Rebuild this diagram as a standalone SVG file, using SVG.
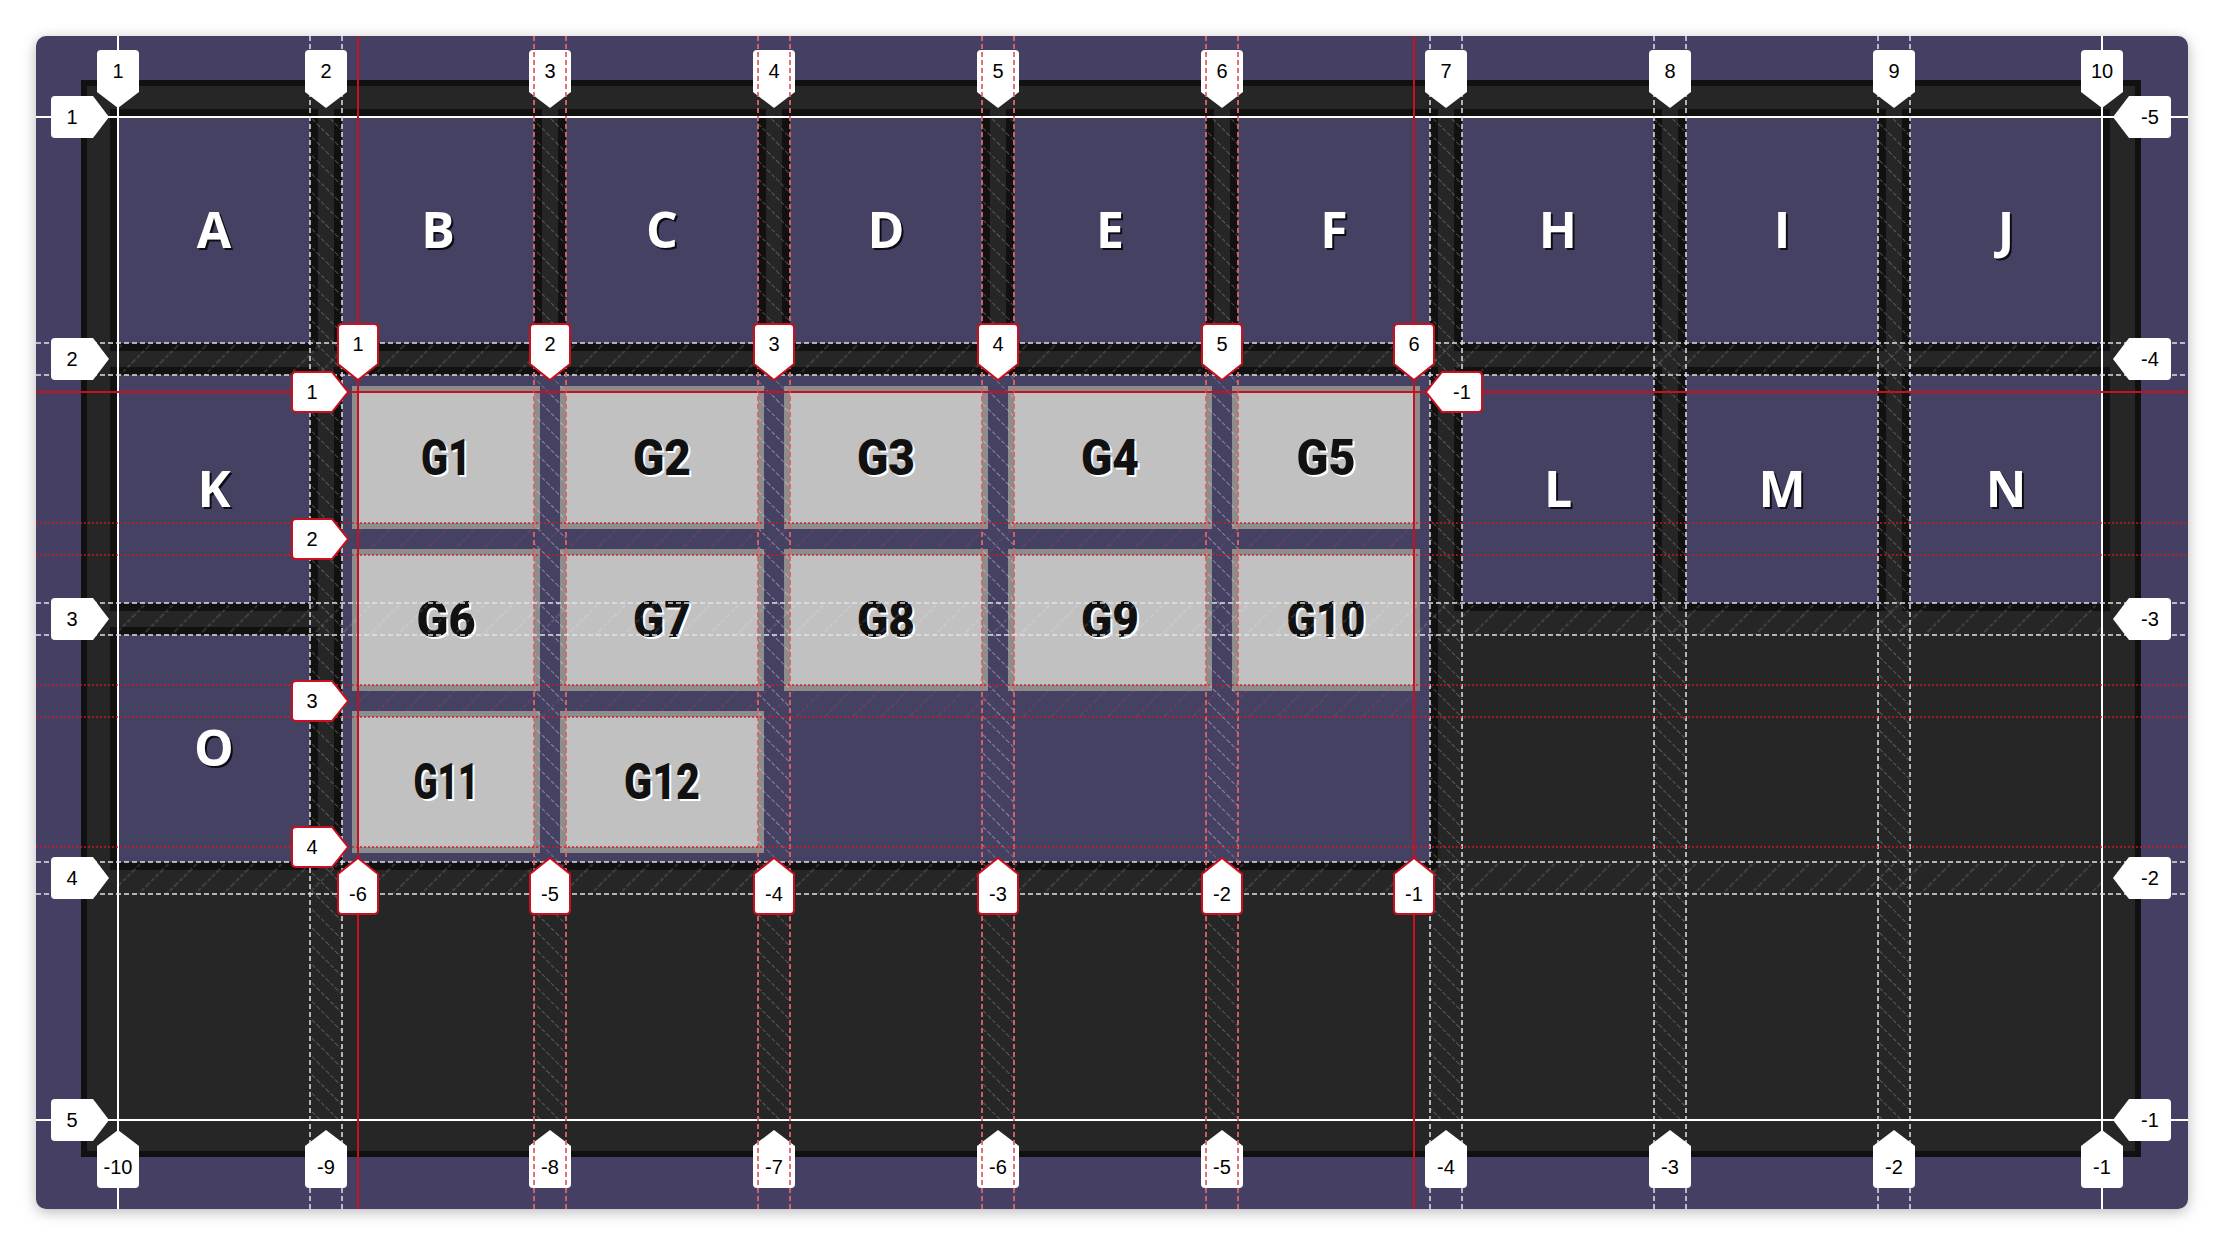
<svg xmlns="http://www.w3.org/2000/svg" width="2224" height="1246" viewBox="0 0 2224 1246">
<style>
.cell{fill:#444163;stroke:#111;stroke-width:16;paint-order:stroke}
.gi{fill:#c1c1c1;stroke:#8d8d8d;stroke-width:12;paint-order:stroke}
.lt{font-family:"Open Sans",sans-serif;font-weight:700;font-size:50px;text-anchor:middle}
.gt{font-family:Roboto,sans-serif;font-weight:900;font-size:50px;text-anchor:middle}
.wl{stroke:#fff;stroke-width:2;fill:none}
.wd{stroke:#e2e2e2;stroke-width:1.5;stroke-dasharray:5 3;fill:none}
.rl{stroke:#c8101e;stroke-width:2;fill:none}
.rd{stroke:#e0404a;stroke-width:1.5;stroke-dasharray:5 3;fill:none}
.ro{stroke:rgba(205,25,35,0.7);stroke-width:2;stroke-dasharray:2 2;fill:none}
.tag{fill:#fff}
.stag{fill:#fff;stroke:#c8101e;stroke-width:2}
.tt{font-family:"Liberation Sans",Arial,sans-serif;font-size:20px;fill:#000;text-anchor:middle}
</style>
<defs>
<filter id="sh" x="-5%" y="-5%" width="110%" height="110%"><feDropShadow dx="0" dy="3" stdDeviation="7" flood-color="#000" flood-opacity="0.28"/></filter>
<pattern id="hc" width="13" height="13" patternUnits="userSpaceOnUse" patternTransform="rotate(-45)"><line x1="6.5" y1="0" x2="6.5" y2="13" stroke="rgba(255,255,255,0.3)" stroke-width="0.8" stroke-dasharray="4 2"/></pattern>
<pattern id="hr" width="20" height="20" patternUnits="userSpaceOnUse" patternTransform="rotate(45)"><line x1="10" y1="0" x2="10" y2="20" stroke="rgba(255,255,255,0.3)" stroke-width="0.8" stroke-dasharray="4 2"/></pattern>
<pattern id="shc" width="13" height="13" patternUnits="userSpaceOnUse" patternTransform="rotate(-45)"><line x1="6.5" y1="0" x2="6.5" y2="13" stroke="rgba(255,190,190,0.3)" stroke-width="0.8" stroke-dasharray="4 2"/></pattern>
<pattern id="shr" width="20" height="20" patternUnits="userSpaceOnUse" patternTransform="rotate(45)"><line x1="10" y1="0" x2="10" y2="20" stroke="rgba(230,80,90,0.35)" stroke-width="0.8" stroke-dasharray="4 2"/></pattern>
<path id="tT" d="M-21,-16 L-21,-54 Q-21,-58 -17,-58 L17,-58 Q21,-58 21,-54 L21,-16 L0,0 Z"/>
<path id="tB" d="M-21,16 L-21,54 Q-21,58 -17,58 L17,58 Q21,58 21,54 L21,16 L0,0 Z"/>
<path id="tL" d="M-16,-21 L-54,-21 Q-58,-21 -58,-17 L-58,17 Q-58,21 -54,21 L-16,21 L0,0 Z"/>
<path id="tR" d="M16,-21 L54,-21 Q58,-21 58,-17 L58,17 Q58,21 54,21 L16,21 L0,0 Z"/>
<path id="sT" d="M-20,-16 L-20,-52 Q-20,-56 -16,-56 L16,-56 Q20,-56 20,-52 L20,-16 L0,0 Z"/>
<path id="sB" d="M-20,16 L-20,52 Q-20,56 -16,56 L16,56 Q20,56 20,52 L20,16 L0,0 Z"/>
<path id="sL" d="M-16,-20 L-52,-20 Q-56,-20 -56,-16 L-56,16 Q-56,20 -52,20 L-16,20 L0,0 Z"/>
<path id="sR" d="M16,-20 L52,-20 Q56,-20 56,-16 L56,16 Q56,20 52,20 L16,20 L0,0 Z"/>
</defs>
<rect width="2224" height="1246" fill="#fff"/>
<rect id="panel" x="36" y="36" width="2152" height="1173" rx="10" fill="#444163" filter="url(#sh)"/>
<rect id="container" x="84" y="83" width="2054" height="1071" fill="#262626" stroke="#111" stroke-width="6"/>
<g id="items">
<g id="A"><rect class="cell" x="118" y="117" width="192" height="226"/><text class="lt" x="216" y="250" fill="#000" opacity="0.8">A</text><text class="lt" x="214" y="248" fill="#fff">A</text></g>
<g id="B"><rect class="cell" x="342" y="117" width="192" height="226"/><text class="lt" x="440" y="250" fill="#000" opacity="0.8">B</text><text class="lt" x="438" y="248" fill="#fff">B</text></g>
<g id="C"><rect class="cell" x="566" y="117" width="192" height="226"/><text class="lt" x="664" y="250" fill="#000" opacity="0.8">C</text><text class="lt" x="662" y="248" fill="#fff">C</text></g>
<g id="D"><rect class="cell" x="790" y="117" width="192" height="226"/><text class="lt" x="888" y="250" fill="#000" opacity="0.8">D</text><text class="lt" x="886" y="248" fill="#fff">D</text></g>
<g id="E"><rect class="cell" x="1014" y="117" width="192" height="226"/><text class="lt" x="1112" y="250" fill="#000" opacity="0.8">E</text><text class="lt" x="1110" y="248" fill="#fff">E</text></g>
<g id="F"><rect class="cell" x="1238" y="117" width="192" height="226"/><text class="lt" x="1336" y="250" fill="#000" opacity="0.8">F</text><text class="lt" x="1334" y="248" fill="#fff">F</text></g>
<g id="H"><rect class="cell" x="1462" y="117" width="192" height="226"/><text class="lt" x="1560" y="250" fill="#000" opacity="0.8">H</text><text class="lt" x="1558" y="248" fill="#fff">H</text></g>
<g id="I"><rect class="cell" x="1686" y="117" width="192" height="226"/><text class="lt" x="1784" y="250" fill="#000" opacity="0.8">I</text><text class="lt" x="1782" y="248" fill="#fff">I</text></g>
<g id="J"><rect class="cell" x="1910" y="117" width="192" height="226"/><text class="lt" x="2008" y="250" fill="#000" opacity="0.8">J</text><text class="lt" x="2006" y="248" fill="#fff">J</text></g>
<g id="K"><rect class="cell" x="118" y="375" width="192" height="228"/><text class="lt" x="216" y="509" fill="#000" opacity="0.8">K</text><text class="lt" x="214" y="507" fill="#fff">K</text></g>
<g id="L"><rect class="cell" x="1462" y="375" width="192" height="228"/><text class="lt" x="1560" y="509" fill="#000" opacity="0.8">L</text><text class="lt" x="1558" y="507" fill="#fff">L</text></g>
<g id="M"><rect class="cell" x="1686" y="375" width="192" height="228"/><text class="lt" x="1784" y="509" fill="#000" opacity="0.8">M</text><text class="lt" x="1782" y="507" fill="#fff">M</text></g>
<g id="N"><rect class="cell" x="1910" y="375" width="192" height="228"/><text class="lt" x="2008" y="509" fill="#000" opacity="0.8">N</text><text class="lt" x="2006" y="507" fill="#fff">N</text></g>
<g id="O"><rect class="cell" x="118" y="635" width="192" height="227"/><text class="lt" x="216" y="768" fill="#000" opacity="0.8">O</text><text class="lt" x="214" y="766" fill="#fff">O</text></g>
<g id="subgrid"><rect class="cell" x="342" y="375" width="1088" height="487"/></g>
</g>
<g id="subitems">
<g id="G1"><rect class="gi" x="358" y="392" width="176" height="131"/><text class="gt" x="448" y="477" fill="#fff" textLength="50" lengthAdjust="spacingAndGlyphs">G1</text><text class="gt" x="446" y="475" fill="#111" textLength="50" lengthAdjust="spacingAndGlyphs">G1</text></g>
<g id="G2"><rect class="gi" x="566" y="392" width="192" height="131"/><text class="gt" x="664" y="477" fill="#fff" textLength="58" lengthAdjust="spacingAndGlyphs">G2</text><text class="gt" x="662" y="475" fill="#111" textLength="58" lengthAdjust="spacingAndGlyphs">G2</text></g>
<g id="G3"><rect class="gi" x="790" y="392" width="192" height="131"/><text class="gt" x="888" y="477" fill="#fff" textLength="58" lengthAdjust="spacingAndGlyphs">G3</text><text class="gt" x="886" y="475" fill="#111" textLength="58" lengthAdjust="spacingAndGlyphs">G3</text></g>
<g id="G4"><rect class="gi" x="1014" y="392" width="192" height="131"/><text class="gt" x="1112" y="477" fill="#fff" textLength="58" lengthAdjust="spacingAndGlyphs">G4</text><text class="gt" x="1110" y="475" fill="#111" textLength="58" lengthAdjust="spacingAndGlyphs">G4</text></g>
<g id="G5"><rect class="gi" x="1238" y="392" width="176" height="131"/><text class="gt" x="1328" y="477" fill="#fff" textLength="59" lengthAdjust="spacingAndGlyphs">G5</text><text class="gt" x="1326" y="475" fill="#111" textLength="59" lengthAdjust="spacingAndGlyphs">G5</text></g>
<g id="G6"><rect class="gi" x="358" y="555" width="176" height="130"/><text class="gt" x="448" y="639" fill="#fff" textLength="59" lengthAdjust="spacingAndGlyphs">G6</text><text class="gt" x="446" y="637" fill="#111" textLength="59" lengthAdjust="spacingAndGlyphs">G6</text></g>
<g id="G7"><rect class="gi" x="566" y="555" width="192" height="130"/><text class="gt" x="664" y="639" fill="#fff" textLength="58" lengthAdjust="spacingAndGlyphs">G7</text><text class="gt" x="662" y="637" fill="#111" textLength="58" lengthAdjust="spacingAndGlyphs">G7</text></g>
<g id="G8"><rect class="gi" x="790" y="555" width="192" height="130"/><text class="gt" x="888" y="639" fill="#fff" textLength="58" lengthAdjust="spacingAndGlyphs">G8</text><text class="gt" x="886" y="637" fill="#111" textLength="58" lengthAdjust="spacingAndGlyphs">G8</text></g>
<g id="G9"><rect class="gi" x="1014" y="555" width="192" height="130"/><text class="gt" x="1112" y="639" fill="#fff" textLength="58" lengthAdjust="spacingAndGlyphs">G9</text><text class="gt" x="1110" y="637" fill="#111" textLength="58" lengthAdjust="spacingAndGlyphs">G9</text></g>
<g id="G10"><rect class="gi" x="1238" y="555" width="176" height="130"/><text class="gt" x="1328" y="639" fill="#fff" textLength="79" lengthAdjust="spacingAndGlyphs">G10</text><text class="gt" x="1326" y="637" fill="#111" textLength="79" lengthAdjust="spacingAndGlyphs">G10</text></g>
<g id="G11"><rect class="gi" x="358" y="717" width="176" height="130"/><text class="gt" x="448" y="801" fill="#fff" textLength="65" lengthAdjust="spacingAndGlyphs">G11</text><text class="gt" x="446" y="799" fill="#111" textLength="65" lengthAdjust="spacingAndGlyphs">G11</text></g>
<g id="G12"><rect class="gi" x="566" y="717" width="192" height="130"/><text class="gt" x="664" y="801" fill="#fff" textLength="76" lengthAdjust="spacingAndGlyphs">G12</text><text class="gt" x="662" y="799" fill="#111" textLength="76" lengthAdjust="spacingAndGlyphs">G12</text></g>
</g>
<g id="main-hatch">
<rect x="310" y="117" width="32" height="1003" fill="url(#hc)"/>
<rect x="534" y="117" width="32" height="1003" fill="url(#hc)"/>
<rect x="758" y="117" width="32" height="1003" fill="url(#hc)"/>
<rect x="982" y="117" width="32" height="1003" fill="url(#hc)"/>
<rect x="1206" y="117" width="32" height="1003" fill="url(#hc)"/>
<rect x="1430" y="117" width="32" height="1003" fill="url(#hc)"/>
<rect x="1654" y="117" width="32" height="1003" fill="url(#hc)"/>
<rect x="1878" y="117" width="32" height="1003" fill="url(#hc)"/>
<rect x="118" y="343" width="1984" height="32" fill="url(#hr)"/>
<rect x="118" y="603" width="1984" height="32" fill="url(#hr)"/>
<rect x="118" y="862" width="1984" height="32" fill="url(#hr)"/>
</g>
<g id="connectors">
<g id="main-lines">
<path class="wl" d="M118,36V1209M2102,36V1209M36,117H2188M36,1120H2188"/>
<path class="wd" d="M310,36V1209M342,36V1209M534,36V1209M566,36V1209M758,36V1209M790,36V1209M982,36V1209M1014,36V1209M1206,36V1209M1238,36V1209M1430,36V1209M1462,36V1209M1654,36V1209M1686,36V1209M1878,36V1209M1910,36V1209"/>
<path class="wd" d="M36,343H2188M36,375H2188M36,603H2188M36,635H2188M36,862H2188M36,894H2188"/>
</g>
<g id="main-tags">
<use href="#tT" class="tag" x="118" y="108"/><text class="tt" x="118" y="78">1</text>
<use href="#tT" class="tag" x="326" y="108"/><text class="tt" x="326" y="78">2</text>
<use href="#tT" class="tag" x="550" y="108"/><text class="tt" x="550" y="78">3</text>
<use href="#tT" class="tag" x="774" y="108"/><text class="tt" x="774" y="78">4</text>
<use href="#tT" class="tag" x="998" y="108"/><text class="tt" x="998" y="78">5</text>
<use href="#tT" class="tag" x="1222" y="108"/><text class="tt" x="1222" y="78">6</text>
<use href="#tT" class="tag" x="1446" y="108"/><text class="tt" x="1446" y="78">7</text>
<use href="#tT" class="tag" x="1670" y="108"/><text class="tt" x="1670" y="78">8</text>
<use href="#tT" class="tag" x="1894" y="108"/><text class="tt" x="1894" y="78">9</text>
<use href="#tT" class="tag" x="2102" y="108"/><text class="tt" x="2102" y="78">10</text>
<use href="#tB" class="tag" x="118" y="1130"/><text class="tt" x="118" y="1174">-10</text>
<use href="#tB" class="tag" x="326" y="1130"/><text class="tt" x="326" y="1174">-9</text>
<use href="#tB" class="tag" x="550" y="1130"/><text class="tt" x="550" y="1174">-8</text>
<use href="#tB" class="tag" x="774" y="1130"/><text class="tt" x="774" y="1174">-7</text>
<use href="#tB" class="tag" x="998" y="1130"/><text class="tt" x="998" y="1174">-6</text>
<use href="#tB" class="tag" x="1222" y="1130"/><text class="tt" x="1222" y="1174">-5</text>
<use href="#tB" class="tag" x="1446" y="1130"/><text class="tt" x="1446" y="1174">-4</text>
<use href="#tB" class="tag" x="1670" y="1130"/><text class="tt" x="1670" y="1174">-3</text>
<use href="#tB" class="tag" x="1894" y="1130"/><text class="tt" x="1894" y="1174">-2</text>
<use href="#tB" class="tag" x="2102" y="1130"/><text class="tt" x="2102" y="1174">-1</text>
<use href="#tL" class="tag" x="109" y="117"/><text class="tt" x="72" y="124">1</text>
<use href="#tL" class="tag" x="109" y="359"/><text class="tt" x="72" y="366">2</text>
<use href="#tL" class="tag" x="109" y="619"/><text class="tt" x="72" y="626">3</text>
<use href="#tL" class="tag" x="109" y="878"/><text class="tt" x="72" y="885">4</text>
<use href="#tL" class="tag" x="109" y="1120"/><text class="tt" x="72" y="1127">5</text>
<use href="#tR" class="tag" x="2113" y="117"/><text class="tt" x="2150" y="124">-5</text>
<use href="#tR" class="tag" x="2113" y="359"/><text class="tt" x="2150" y="366">-4</text>
<use href="#tR" class="tag" x="2113" y="619"/><text class="tt" x="2150" y="626">-3</text>
<use href="#tR" class="tag" x="2113" y="878"/><text class="tt" x="2150" y="885">-2</text>
<use href="#tR" class="tag" x="2113" y="1120"/><text class="tt" x="2150" y="1127">-1</text>
</g>
<g id="subgrid-hatch">
<rect x="534" y="392" width="32" height="455" fill="url(#shc)"/>
<rect x="758" y="392" width="32" height="455" fill="url(#shc)"/>
<rect x="982" y="392" width="32" height="455" fill="url(#shc)"/>
<rect x="1206" y="392" width="32" height="455" fill="url(#shc)"/>
<rect x="358" y="523" width="1056" height="32" fill="url(#shr)"/>
<rect x="358" y="685" width="1056" height="32" fill="url(#shr)"/>
</g>
<g id="subgrid-lines">
<path class="rl" d="M358,36V1209M1414,36V1209M36,392H2188"/>
<path class="rd" d="M534,36V1209M566,36V1209M758,36V1209M790,36V1209M982,36V1209M1014,36V1209M1206,36V1209M1238,36V1209"/>
<path class="ro" d="M36,523H2188M36,555H2188M36,685H2188M36,717H2188M36,847H2188"/>
</g>
<g id="subgrid-tags">
<use href="#sT" class="stag" x="358" y="380"/><text class="tt" x="358" y="351">1</text>
<use href="#sT" class="stag" x="550" y="380"/><text class="tt" x="550" y="351">2</text>
<use href="#sT" class="stag" x="774" y="380"/><text class="tt" x="774" y="351">3</text>
<use href="#sT" class="stag" x="998" y="380"/><text class="tt" x="998" y="351">4</text>
<use href="#sT" class="stag" x="1222" y="380"/><text class="tt" x="1222" y="351">5</text>
<use href="#sT" class="stag" x="1414" y="380"/><text class="tt" x="1414" y="351">6</text>
<use href="#sB" class="stag" x="358" y="858"/><text class="tt" x="358" y="901">-6</text>
<use href="#sB" class="stag" x="550" y="858"/><text class="tt" x="550" y="901">-5</text>
<use href="#sB" class="stag" x="774" y="858"/><text class="tt" x="774" y="901">-4</text>
<use href="#sB" class="stag" x="998" y="858"/><text class="tt" x="998" y="901">-3</text>
<use href="#sB" class="stag" x="1222" y="858"/><text class="tt" x="1222" y="901">-2</text>
<use href="#sB" class="stag" x="1414" y="858"/><text class="tt" x="1414" y="901">-1</text>
<use href="#sL" class="stag" x="348" y="392"/><text class="tt" x="312" y="399">1</text>
<use href="#sL" class="stag" x="348" y="539"/><text class="tt" x="312" y="546">2</text>
<use href="#sL" class="stag" x="348" y="701"/><text class="tt" x="312" y="708">3</text>
<use href="#sL" class="stag" x="348" y="847"/><text class="tt" x="312" y="854">4</text>
<use href="#sR" class="stag" x="1426" y="392"/><text class="tt" x="1462" y="399">-1</text>
</g>
</g>
</svg>
